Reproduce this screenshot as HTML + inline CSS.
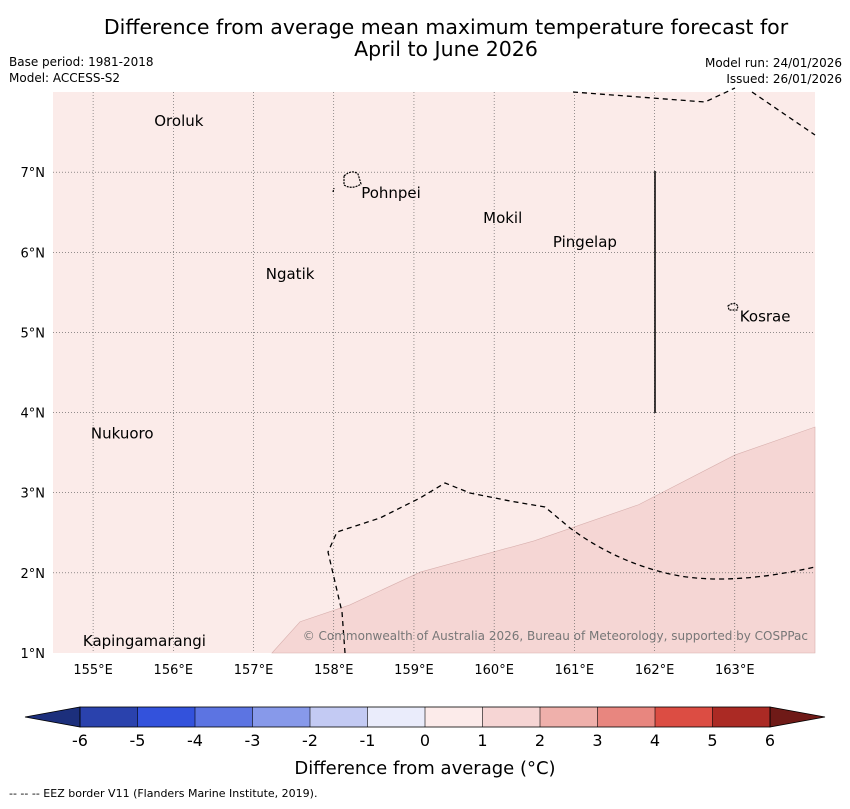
<!DOCTYPE html>
<html><head><meta charset="utf-8"><style>
body{margin:0;background:#fff;font-family:"Liberation Sans","DejaVu Sans",sans-serif;}
svg text{font-family:"DejaVu Sans","Liberation Sans",sans-serif;}
</style></head><body>
<svg width="850" height="804" viewBox="0 0 850 804" xmlns="http://www.w3.org/2000/svg">
<text x="446" y="34" text-anchor="middle" font-size="20.5">Difference from average mean maximum temperature forecast for</text>
<text x="446" y="56" text-anchor="middle" font-size="20.5">April to June 2026</text>
<text x="9" y="66" font-size="12">Base period: 1981-2018</text>
<text x="9" y="82" font-size="12">Model: ACCESS-S2</text>
<text x="842" y="67" font-size="12" text-anchor="end">Model run: 24/01/2026</text>
<text x="842" y="83" font-size="12" text-anchor="end">Issued: 26/01/2026</text>
<g id="map"></g>
<g id="cbar"></g>
<text x="425" y="774" text-anchor="middle" font-size="18">Difference from average (°C)</text>
<text x="9" y="797" font-size="11">--  --  -- EEZ border V11 (Flanders Marine Institute, 2019).</text>
</svg>
<script>
const lonTicks=[155,156,157,158,159,160,161,162,163];
const latTicks=[1,2,3,4,5,6,7];
const places=["Oroluk","Pohnpei","Mokil","Pingelap","Ngatik","Kosrae","Nukuoro","Kapingamarangi"];
const placeLon=[155.75,158.33,159.85,160.72,157.14,163.05,154.96,154.86];
const placeLat=[7.64,6.74,6.43,6.13,5.73,5.2,3.74,1.15];
const zoneLon=[157.23,157.58,158.2,159.08,160.5,161.8,163.0,164.0,164.0];
const zoneLat=[1.0,1.39,1.6,2.01,2.4,2.85,3.47,3.82,1.0];
const cbLevels=[-6,-5,-4,-3,-2,-1,0,1,2,3,4,5,6];
const cbColors=["#2a42ad","#3352dc","#5c74e2","#8799ea","#c3caf3","#eaecfb","#fcebea","#f6d5d4","#efb0ab","#e8867f","#dc4d43","#ab2a24"];
const L=53,R=815,T=92,B=653;
const lon0=154.5,lon1=164.0,lat0=1.0,lat1=8.0;
const X=v=>L+(v-lon0)/(lon1-lon0)*(R-L);
const Y=v=>B-(v-lat0)/(lat1-lat0)*(B-T);
const NS="http://www.w3.org/2000/svg";
function mk(t,a,p){const e=document.createElementNS(NS,t);for(const k in a)e.setAttribute(k,a[k]);p.appendChild(e);return e;}
const map=document.getElementById('map');
const bg=mk('rect',{x:L,y:T,width:R-L,height:B-T,fill:'#fbebe9'},map);


const zone=mk('polygon',{points:zoneLon.map((v,i)=>X(v)+','+Y(zoneLat[i])).join(' '),fill:'#f5d6d4',stroke:'#d8b0ae','stroke-width':0.6},map);


lonTicks.forEach(v=>{
 const l=mk('line',{x1:X(v),x2:X(v),y1:T,y2:B,stroke:'#555','stroke-width':0.6,'stroke-dasharray':'1,2'},map);
 
 
 const t=mk('text',{x:X(v),y:B+21,'text-anchor':'middle','font-size':13},map);t.textContent=v+'°E';
 
 
});
latTicks.forEach(v=>{
 if(v>1){const l=mk('line',{x1:L,x2:R,y1:Y(v),y2:Y(v),stroke:'#555','stroke-width':0.6,'stroke-dasharray':'1,2'},map);
 
 }
 const t=mk('text',{x:45,y:Y(v)+5,'text-anchor':'end','font-size':13},map);t.textContent=v+'°N';
 
 
});
const eez1=mk('path',{d:'M573,92 L705,102 L735,88 M752,92 L815,135',fill:'none',stroke:'#000','stroke-width':1.3,'stroke-dasharray':'5,4'},map);


const eez2=mk('path',{d:'M345,653 L342,612 L328,552 L337,532 L380,518 L420,498 L445,483 L470,493 L510,501 L545,507 L570,528 Q620,565 680,576 Q735,585 815,567',fill:'none',stroke:'#000','stroke-width':1.3,'stroke-dasharray':'5,4'},map);


const sl=mk('line',{x1:655,x2:655,y1:171,y2:413,stroke:'#000','stroke-width':1.5},map);


const isl=mk('path',{d:'M344,176 Q352,169 358,174 L361,184 Q352,190 344,185 Z M333,192 L334,188 M728,306 Q734,301 738,306 L737,310 L729,310 Z',fill:'none',stroke:'#000','stroke-width':1.2,'stroke-dasharray':'2,1'},map);


places.forEach((p,i)=>{
 const t=mk('text',{x:X(placeLon[i])+1,y:Y(placeLat[i])+5,'font-size':15},map);t.textContent=p;
 
 
});
const cp=mk('text',{x:808,y:640,'text-anchor':'end','font-size':12,fill:'#777'},map);cp.textContent='© Commonwealth of Australia 2026, Bureau of Meteorology, supported by COSPPac';


// colorbar
const cb=document.getElementById('cbar');
const cL=80,cR=770,cT=707,cB=727,cM=(cT+cB)/2;
const CX=v=>cL+(v-cbLevels[0])/(cbLevels[cbLevels.length-1]-cbLevels[0])*(cR-cL);
const lt=mk('polygon',{points:`25,${cM} ${cL},${cT} ${cL},${cB}`,fill:'#1c2f7c',stroke:'#000','stroke-width':0.8},cb);


const rt=mk('polygon',{points:`825,${cM} ${cR},${cT} ${cR},${cB}`,fill:'#6f1a17',stroke:'#000','stroke-width':0.8},cb);


cbColors.forEach((c,i)=>{
 const r=mk('rect',{x:CX(cbLevels[i]),y:cT,width:CX(cbLevels[i+1])-CX(cbLevels[i]),height:cB-cT,fill:c},cb);
 
 
});
cbLevels.forEach(v=>{
 const l=mk('line',{x1:CX(v),x2:CX(v),y1:cT,y2:cB,stroke:'#000','stroke-width':0.6},cb);
 
 
 const t=mk('text',{x:CX(v),y:746,'text-anchor':'middle','font-size':16},cb);t.textContent=v;
 
 
});
const cf=mk('rect',{x:cL,y:cT,width:cR-cL,height:cB-cT,fill:'none',stroke:'#000','stroke-width':0.8},cb);


</script>
</body></html>
